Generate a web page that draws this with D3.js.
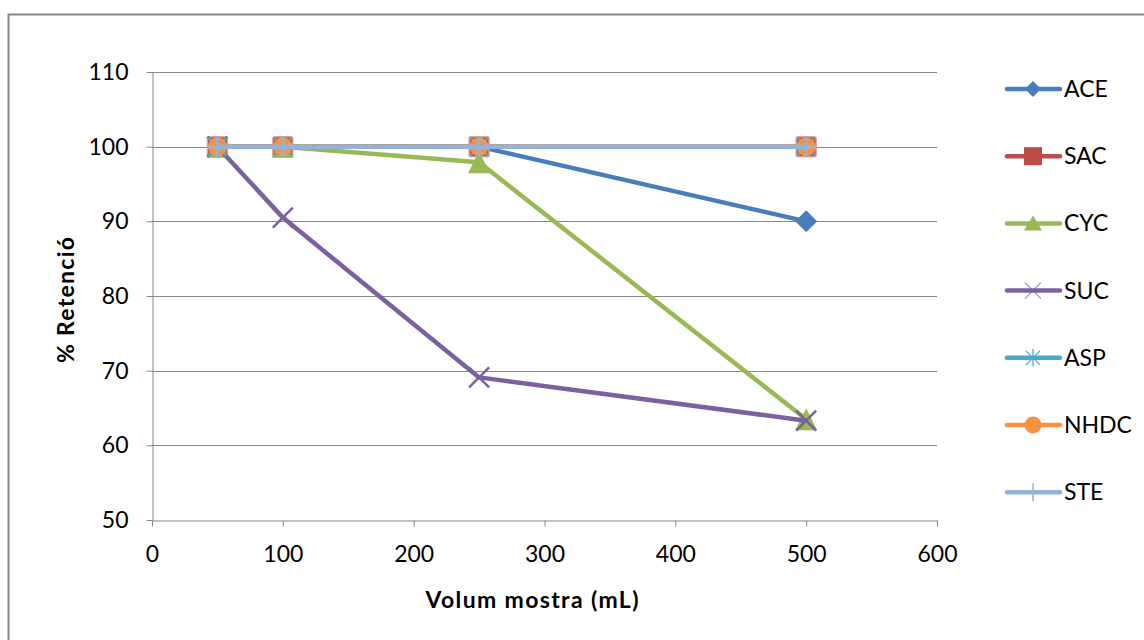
<!DOCTYPE html>
<html><head><meta charset="utf-8">
<script src="https://cdn.jsdelivr.net/npm/d3@7"></script>
<style>body{margin:0;background:#fff}text{font-family:Lato,"Open Sans",sans-serif;fill:#000}</style>
</head><body><svg id="c" width="1144" height="640"></svg>
<script>
const volumes = [50, 100, 250, 500];
const seriesNames = ["ACE","SAC","CYC","SUC","ASP","NHDC","STE"];
const ACE  = [100, 100, 100, 90];
const SAC  = [100, 100, 100, 100];
const CYC  = [100, 100, 97.9, 63.5];
const SUC  = [100, 90.5, 69.1, 63.3];
const ASP  = [100, 100, 100, 100];
const NHDC = [100, 100, 100, 100];
const STE  = [100, 100, 100, 100];
const xTicks = [0,100,200,300,400,500,600];
const yTicks = [50,60,70,80,90,100,110];

const values = {ACE,SAC,CYC,SUC,ASP,NHDC,STE};
const colors = {ACE:"#4A7EBB",SAC:"#BE4B48",CYC:"#98B954",SUC:"#7D60A0",ASP:"#46AAC5",NHDC:"#F69240",STE:"#94B3DA"};
const markers = {ACE:"diamond",SAC:"square",CYC:"triangle",SUC:"x",ASP:"asterisk",NHDC:"circle",STE:"plus"};

const svg = d3.select("#c");
svg.append("rect").attr("x",8.5).attr("y",14.5).attr("width",1300).attr("height",800)
  .attr("fill","none").attr("stroke","#878787").attr("stroke-width",2);

const x = d3.scaleLinear().domain([0,600]).range([152,937]);
const y = d3.scaleLinear().domain([50,110]).range([520,72]);

svg.append("g").selectAll("line").data(yTicks.filter(d=>d>50)).join("line")
  .attr("x1",x(0)).attr("x2",x(600)).attr("y1",d=>Math.round(y(d))+0.5).attr("y2",d=>Math.round(y(d))+0.5)
  .attr("stroke","#878787").attr("stroke-width",1);

const yAxis = svg.append("g").attr("transform",`translate(${x(0)+0.5},0)`)
  .call(d3.axisLeft(y).tickValues(yTicks).tickSize(6).tickPadding(18).tickSizeOuter(0));
const xAxis = svg.append("g").attr("transform",`translate(0,${y(50)+0.5})`)
  .call(d3.axisBottom(x).tickValues(xTicks).tickSize(6).tickPadding(19).tickSizeOuter(0));
[yAxis,xAxis].forEach(a=>{
  a.select(".domain").attr("stroke","#878787");
  a.selectAll(".tick line").attr("stroke","#878787");
  a.selectAll(".tick text").attr("font-size",23).style("font-family","Lato,'Open Sans',sans-serif").attr("fill","#000");
});

svg.append("text").attr("x",532).attr("y",608).attr("text-anchor","middle")
  .attr("font-size",23).attr("font-weight","bold").attr("textLength",213).attr("lengthAdjust","spacing")
  .text("Volum mostra (mL)");
svg.append("text").attr("transform","translate(74,300) rotate(-90)").attr("text-anchor","middle")
  .attr("font-size",23).attr("font-weight","bold").attr("textLength",126).attr("lengthAdjust","spacing")
  .text("% Retenció");

function drawMarker(g, type, color){
  switch(type){
    case "diamond": g.append("path").attr("d","M0,-11L11,0L0,11L-11,0Z").attr("fill",color); break;
    case "square": g.append("rect").attr("x",-10).attr("y",-10).attr("width",20).attr("height",20).attr("rx",2)
      .attr("fill",color).attr("stroke","#E3A09E").attr("stroke-width",1.5); break;
    case "triangle": g.append("path").attr("d","M0,-11L11,11L-11,11Z").attr("fill",color); break;
    case "x": g.append("path").attr("d","M-10,-10L10,10M-10,10L10,-10").attr("stroke",color).attr("stroke-width",2.5).attr("fill","none"); break;
    case "asterisk": g.append("path").attr("d","M-9,-9L9,9M-9,9L9,-9M0,-10L0,10").attr("stroke",color).attr("stroke-width",2.5).attr("fill","none"); break;
    case "circle": g.append("circle").attr("r",9.5).attr("fill",color); break;
    case "plus": g.append("path").attr("d","M-10,0L10,0M0,-10L0,10").attr("stroke",color).attr("stroke-width",3).attr("fill","none"); break;
  }
}
function drawLegendMarker(g, type, color){
  switch(type){
    case "diamond": g.append("path").attr("d","M0,-8L8,0L0,8L-8,0Z").attr("fill",color); break;
    case "square": g.append("rect").attr("x",-9).attr("y",-9).attr("width",18).attr("height",18).attr("fill",color); break;
    case "triangle": g.append("path").attr("d","M0,-8L9,7L-9,7Z").attr("fill",color); break;
    case "x": g.append("path").attr("d","M-8,-8L8,8M-8,8L8,-8").attr("stroke",color).attr("stroke-width",1.2).attr("opacity",0.7); break;
    case "asterisk": g.append("path").attr("d","M-7,-7L7,7M-7,7L7,-7M0,-9L0,9").attr("stroke",color).attr("stroke-width",1.2); break;
    case "circle": g.append("circle").attr("r",8.5).attr("fill",color); break;
    case "plus": g.append("path").attr("d","M0,-9L0,9").attr("stroke",color).attr("stroke-width",1.5); break;
  }
}

const line = d3.line().x((d,i)=>x(volumes[i])).y(d=>y(d));
seriesNames.forEach(name=>{
  const g = svg.append("g");
  g.append("path").datum(values[name]).attr("d",line).attr("fill","none")
    .attr("stroke",colors[name]).attr("stroke-width",4.5).attr("stroke-linejoin","round");
  values[name].forEach((v,i)=>{
    drawMarker(g.append("g").attr("transform",`translate(${x(volumes[i])},${y(v)})`), markers[name], colors[name]);
  });
});

const leg = svg.append("g");
seriesNames.forEach((name,i)=>{
  const cy = 89 + i*67.2;
  const g = leg.append("g").attr("transform",`translate(0,${cy})`);
  g.append("line").attr("x1",1007).attr("x2",1060).attr("stroke",colors[name]).attr("stroke-width",4.5).attr("stroke-linecap","round");
  drawLegendMarker(g.append("g").attr("transform","translate(1033,0)"), markers[name], colors[name]);
  g.append("text").attr("x",1064).attr("y",8).attr("font-size",23).text(name);
});
</script></body></html>
